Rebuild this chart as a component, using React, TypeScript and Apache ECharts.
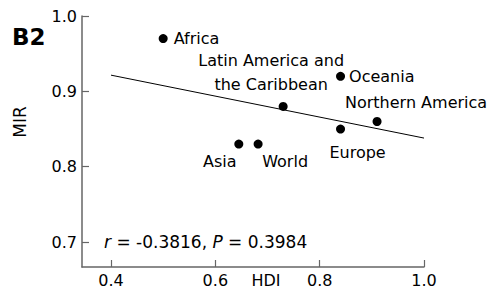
import React, { useEffect, useRef } from "react";
import * as echarts from "echarts";

const regions = ["Africa", "Latin America and\nthe Caribbean", "Oceania", "Northern America", "Europe", "Asia", "World"];
const hdi = [0.50, 0.73, 0.84, 0.91, 0.84, 0.645, 0.682];
const mir = [0.97, 0.88, 0.92, 0.86, 0.85, 0.83, 0.83];
const fitLine = [[0.4, 0.9215], [1.0, 0.838]];
const xTicks = [0.4, 0.6, 0.8, 1.0];
const yTicks = [0.7, 0.8, 0.9, 1.0];
const xRange = [0.3444, 1.0];
const yRange = [0.6669, 1.0];

const FONT = "DejaVu Sans";

const labelCfg: any[] = [
  { position: "right", distance: 6, offset: [0, 0] },
  { position: "top", distance: 5, offset: [-12, 0], align: "center", lineHeight: 24 },
  { position: "right", distance: 4, offset: [0, 0] },
  { position: "top", distance: 6, offset: [39, 0] },
  { position: "bottom", distance: 11, offset: [17, 0] },
  { position: "bottom", distance: 5, offset: [-19, 0] },
  { position: "bottom", distance: 5, offset: [27, 0] },
];

const G = { left: 82, top: 16, width: 342, height: 251 };

export default function App() {
  const ref = useRef<HTMLDivElement>(null);
  useEffect(() => {
    const chart = echarts.init(ref.current!, null, { renderer: "svg" });
    const xPix = (v: number) => G.left + ((v - xRange[0]) / (xRange[1] - xRange[0])) * G.width;
    const yPix = (v: number) => G.top + ((yRange[1] - v) / (yRange[1] - yRange[0])) * G.height;
    const axisLine = { show: true, lineStyle: { color: "#666", width: 1.5 } };
    const tickStyle = { show: true, inside: true, length: 7, lineStyle: { color: "#666", width: 1.2 } };
    const labelStyle = { color: "#000", fontFamily: FONT, fontSize: 16, margin: 5, formatter: (v: number) => v.toFixed(1) };
    const hidden = { show: false };
    const x0 = xPix(xTicks[0]);
    const y0 = yPix(yTicks[0]);
    chart.setOption({
      animation: false,
      grid: [
        { ...G },
        { left: x0, top: G.top, width: G.left + G.width - x0, height: G.height },
        { left: G.left, top: G.top, width: G.width, height: y0 - G.top },
      ],
      xAxis: [
        {
          gridIndex: 0, type: "value", min: xRange[0], max: xRange[1],
          splitLine: hidden, axisLine, axisTick: hidden, axisLabel: hidden,
        },
        {
          gridIndex: 1, type: "value", min: xTicks[0], max: xTicks[xTicks.length - 1], interval: 0.2,
          splitLine: hidden, axisLine: hidden, axisTick: tickStyle, axisLabel: labelStyle,
        },
        { gridIndex: 2, type: "value", show: false },
      ],
      yAxis: [
        {
          gridIndex: 0, type: "value", min: yRange[0], max: yRange[1],
          splitLine: hidden, axisLine, axisTick: hidden, axisLabel: hidden,
        },
        { gridIndex: 1, type: "value", show: false },
        {
          gridIndex: 2, type: "value", min: yTicks[0], max: yTicks[yTicks.length - 1], interval: 0.1,
          splitLine: hidden, axisLine: hidden, axisTick: tickStyle, axisLabel: labelStyle,
        },
      ],
      series: [
        {
          type: "line",
          data: fitLine,
          symbol: "none",
          lineStyle: { color: "#000", width: 1 },
          silent: true,
        },
        {
          type: "scatter",
          symbol: "circle",
          symbolSize: 9,
          itemStyle: { color: "#000", opacity: 1 },
          data: regions.map((name, i) => ({
            value: [hdi[i], mir[i]],
            name,
            label: {
              show: true,
              formatter: name,
              color: "#000",
              fontFamily: FONT,
              fontSize: 16,
              ...labelCfg[i],
            },
          })),
        },
      ],
      graphic: [
        {
          type: "text",
          left: 12,
          top: 25,
          style: { text: "B2", fontFamily: FONT, fontWeight: "bold", fontSize: 23, fill: "#000" },
        },
        {
          type: "text",
          x: 20,
          y: 122,
          rotation: Math.PI / 2,
          style: { text: "MIR", fontFamily: FONT, fontSize: 17, fill: "#000", align: "center", verticalAlign: "middle" },
        },
        {
          type: "text",
          x: 266,
          y: 272,
          style: { text: "HDI", fontFamily: FONT, fontSize: 16, fill: "#000", align: "center", verticalAlign: "top" },
        },
        {
          type: "text",
          x: 104,
          y: 242,
          style: {
            text: "{i|r} = -0.3816, {i|P} = 0.3984",
            fontFamily: FONT,
            fontSize: 17,
            fill: "#000",
            verticalAlign: "middle",
            rich: { i: { fontStyle: "italic", fontFamily: FONT, fontSize: 17, fill: "#000" } },
          },
        },
      ],
    });
    return () => chart.dispose();
  }, []);
  return <div ref={ref} style={{ width: 492, height: 289, position: "absolute", left: 0, top: 0 }} />;
}
